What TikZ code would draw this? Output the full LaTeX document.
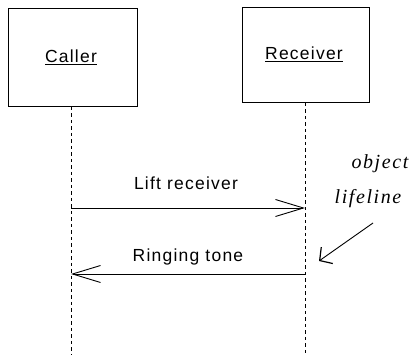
\documentclass[tikz,border=0pt]{standalone}
\usepackage{fontspec}
\setmainfont{Liberation Sans}[LetterSpace=7]
\newfontfamily\annfont{Liberation Serif}[LetterSpace=8]
\usetikzlibrary{arrows.meta}
\tikzset{
  objbox/.style={draw, line width=1pt, inner sep=0pt, anchor=north west},
  lbl/.style={font=\fontsize{17.5}{21}\selectfont, inner sep=0pt},
  ann/.style={font=\annfont\itshape\fontsize{20}{24}\selectfont, inner sep=0pt},
  lifeline/.style={line width=0.9pt, dash pattern=on 3.5pt off 3pt},
  msg/.style={line width=0.9pt, -{Straight Barb[length=28pt,width=17pt,line width=0.9pt]}},
  pointer/.style={line width=0.9pt, -{Straight Barb[length=9pt,width=20pt,line width=1.2pt]}}
}
\begin{document}
\begin{tikzpicture}[x=1pt,y=-1pt]
\useasboundingbox (0,0) rectangle (410,355);
% object boxes
\node[objbox, minimum width=129pt, minimum height=98pt] (caller) at (8,8) {};
\node[objbox, minimum width=127pt, minimum height=95pt] (receiver) at (242,7) {};
\node[lbl] (callerlbl) at (71,57) {\underline{Caller}};
\node[lbl] (receiverlbl) at (304,54) {\underline{Receiver}};
% lifelines
\coordinate (callerend) at (71,355);
\coordinate (receiverend) at (305,355);
\draw[lifeline] (caller.south -| callerend) -- (callerend);
\draw[lifeline] (receiver.south -| receiverend) -- (receiverend);
% messages
\coordinate (m1s) at (71,208);
\coordinate (m1e) at (305,208);
\coordinate (m2s) at (305,274);
\coordinate (m2e) at (71,274);
\draw[msg] (m1s) -- (m1e);
\draw[msg] (m2s) -- (m2e);
\node[lbl] (m1lbl) at (186,183) {Lift receiver};
\node[lbl] (m2lbl) at (188,257) {Ringing tone};
% annotation
\node[ann] (obj) at (380,164) {object};
\node[ann] (life) at (368,199) {lifeline};
\coordinate (ptail) at (373,223);
\coordinate (ptip) at (319,261);
\draw[pointer] (ptail) -- (ptip);
\end{tikzpicture}
\end{document}
